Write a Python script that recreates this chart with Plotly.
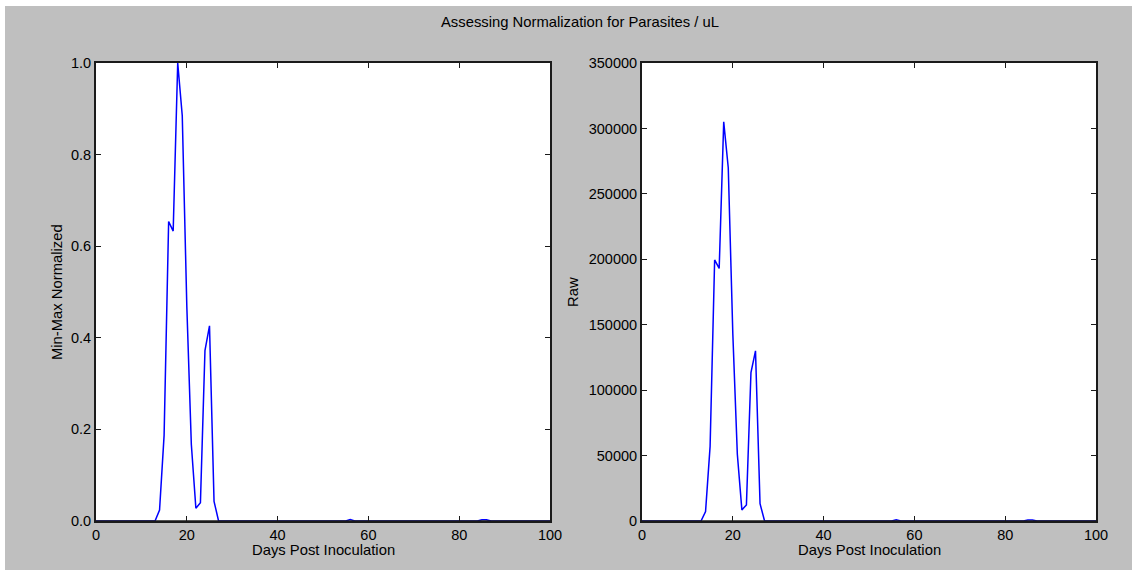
import plotly.graph_objects as go
from plotly.subplots import make_subplots

# Data
days = [0, 13, 14, 15, 16, 17, 18, 19, 20, 21, 22, 23, 24, 25, 26, 27,
        55, 56, 57, 84, 85, 86, 87, 100]
raw = [0, 0, 7300, 57000, 199500, 193000, 305000, 270000, 143500, 51000, 8500,
       12300, 113500, 130000, 13200, 0, 0, 1000, 0, 0, 800, 800, 0, 0]
normalized = [0, 0, 0.024, 0.187, 0.654, 0.633, 1.0, 0.885, 0.470, 0.167, 0.028,
              0.040, 0.372, 0.426, 0.043, 0, 0, 0.0033, 0, 0, 0.0026, 0.0026, 0, 0]

x_ticks = [0, 20, 40, 60, 80, 100]
left_yticks = [0.0, 0.2, 0.4, 0.6, 0.8, 1.0]
right_yticks = [0, 50000, 100000, 150000, 200000, 250000, 300000, 350000]

title_text = "Assessing Normalization for Parasites / uL"
x_title = "Days Post Inoculation"
left_ytitle = "Min-Max Normalized"
right_ytitle = "Raw"

W, H = 1132, 570
ML, MR, MT, MB = 96, 36, 63, 49
PW = W - ML - MR
PH = H - MT - MB
FONT = "Liberation Sans, Arial, sans-serif"
GRAY = "#bfbfbf"
AXIS_COLOR = "#1a1a1a"
TICK_SIZE = 14.5
TITLE_SIZE = 14.8

fig = make_subplots(rows=1, cols=2, horizontal_spacing=0.092)
fig.add_trace(go.Scatter(x=days, y=normalized, mode="lines",
                         line=dict(color="#0000ff", width=1.5), showlegend=False),
              row=1, col=1)
fig.add_trace(go.Scatter(x=days, y=raw, mode="lines",
                         line=dict(color="#0000ff", width=1.5), showlegend=False),
              row=1, col=2)

axis_common = dict(showline=True, linecolor=AXIS_COLOR, linewidth=2, mirror="allticks",
                   ticks="inside", ticklen=5, tickcolor=AXIS_COLOR, tickwidth=1,
                   showgrid=False, zeroline=False, layer="above traces",
                   tickfont=dict(family=FONT, size=TICK_SIZE, color="black"))

fig.update_xaxes(range=[0, 100], tickvals=x_ticks, **axis_common)
fig.update_yaxes(**axis_common)
fig.update_xaxes(domain=[0, 0.454], row=1, col=1)
fig.update_xaxes(domain=[0.546, 1.0], row=1, col=2)
fig.update_yaxes(range=[0, 1.0], tickvals=left_yticks, tickformat=".1f", row=1, col=1)
fig.update_yaxes(range=[0, 350000], tickvals=right_yticks, tickformat="d", row=1, col=2)

def px_x(px):
    return (px - ML) / PW

def px_y(py):
    return (H - MB - py) / PH

annotations = [
    dict(text=title_text, x=px_x(580), y=px_y(22), xref="paper", yref="paper",
         showarrow=False, xanchor="center", yanchor="middle",
         font=dict(family=FONT, size=TITLE_SIZE, color="black")),
    dict(text=x_title, x=px_x(323), y=px_y(550), xref="paper", yref="paper",
         showarrow=False, xanchor="center", yanchor="middle",
         font=dict(family=FONT, size=TITLE_SIZE, color="black")),
    dict(text=x_title, x=px_x(869), y=px_y(550), xref="paper", yref="paper",
         showarrow=False, xanchor="center", yanchor="middle",
         font=dict(family=FONT, size=TITLE_SIZE, color="black")),
    dict(text=left_ytitle, x=px_x(57), y=px_y(292), xref="paper", yref="paper",
         showarrow=False, xanchor="center", yanchor="middle", textangle=-90,
         font=dict(family=FONT, size=TITLE_SIZE, color="black")),
    dict(text=right_ytitle, x=px_x(573), y=px_y(292), xref="paper", yref="paper",
         showarrow=False, xanchor="center", yanchor="middle", textangle=-90,
         font=dict(family=FONT, size=TITLE_SIZE, color="black")),
]

shapes = [
    dict(type="rect", xref="paper", yref="paper", x0=px_x(0), x1=px_x(5),
         y0=px_y(H), y1=px_y(0), fillcolor="white", line=dict(width=0), layer="below"),
    dict(type="rect", xref="paper", yref="paper", x0=px_x(0), x1=px_x(W),
         y0=px_y(6), y1=px_y(0), fillcolor="white", line=dict(width=0), layer="below"),
    # bottom spine drawn over the zero-level part of the lines (as in the reference)
    dict(type="line", xref="x", yref="y", x0=0, x1=100, y0=0, y1=0,
         line=dict(color=AXIS_COLOR, width=1.5), layer="above"),
    dict(type="line", xref="x2", yref="y2", x0=0, x1=100, y0=0, y1=0,
         line=dict(color=AXIS_COLOR, width=1.5), layer="above"),
]

fig.update_layout(width=W, height=H, margin=dict(l=ML, r=MR, t=MT, b=MB),
                  paper_bgcolor=GRAY, plot_bgcolor="white",
                  annotations=annotations, shapes=shapes,
                  font=dict(family=FONT, size=TICK_SIZE, color="black"))

fig.write_html("out.html")
